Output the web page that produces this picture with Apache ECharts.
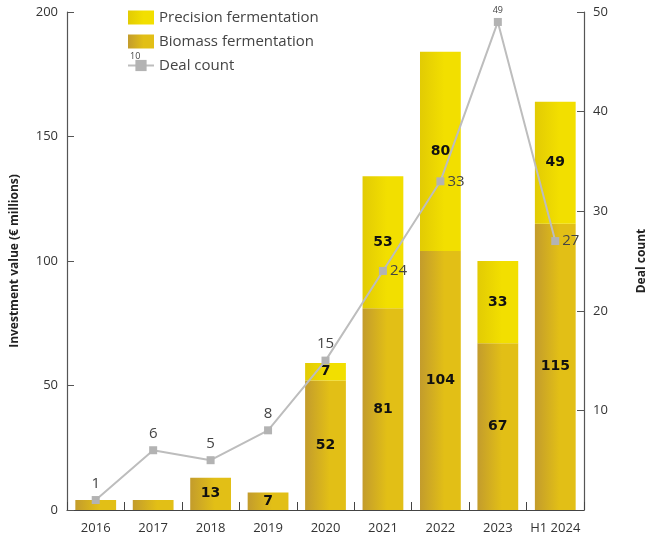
<!DOCTYPE html>
<html><head><meta charset="utf-8">
<script src="https://cdn.jsdelivr.net/npm/echarts@6/dist/echarts.min.js"></script>
<style>html,body{margin:0;padding:0;background:#fff}#c{width:645px;height:538px}</style>
</head><body><div id="c"></div>
<script>
const categories = ['2016','2017','2018','2019','2020','2021','2022','2023','H1 2024'];
const biomass = [4, 4, 13, 7, 52, 81, 104, 67, 115];
const precision = [0, 0, 0, 0, 7, 53, 80, 33, 49];
const dealCount = [1, 6, 5, 8, 15, 24, 33, 49, 27];
const leftTicks = [0, 50, 100, 150, 200];
const rightTicks = [10, 20, 30, 40, 50];
const hideBarLabel = ['2016','2017'];
const sideLabelCats = ['2021','2022','H1 2024'];

const font = 'Open Sans';
const grad = (a, b) => new echarts.graphic.LinearGradient(0, 0, 1, 0, [{offset:0,color:a},{offset:0.6,color:b},{offset:1,color:b}]);
const barLabel = {show:true, position:'inside', fontFamily:'DejaVu Sans', fontWeight:'bold', fontSize:14, color:'#111'};

const chart = echarts.init(document.getElementById('c'));
chart.setOption({
  animation:false,
  textStyle:{fontFamily:font},
  grid:{left:67, right:61, top:12, bottom:28, containLabel:false, outerBoundsMode:'none'},
  legend:{
    orient:'vertical', left:122, top:5, itemGap:9, itemWidth:26, itemHeight:14,
    textStyle:{fontSize:15, color:'#444', fontFamily:font},
    data:[
      {name:'Precision fermentation', icon:'rect'},
      {name:'Biomass fermentation', icon:'rect'},
      {name:'Deal count'}
    ]
  },
  graphic:[{type:'text', left:130, top:52, style:{text:'10', fontSize:9, fill:'#444', fontFamily:font}}],
  xAxis:{
    type:'category', data:categories,
    axisLine:{lineStyle:{color:'#444', width:1.2}},
    axisTick:{show:true, inside:true, length:8, lineStyle:{color:'#444'}},
    axisLabel:{fontSize:13, color:'#333', margin:12, interval:0, fontFamily:font}
  },
  yAxis:[
    {type:'value', min:0, max:200, interval:50,
     name:'Investment value (€ millions)', nameLocation:'middle', nameGap:46, nameRotate:90,
     nameTextStyle:{fontSize:12, fontWeight:'bold', color:'#222', fontFamily:font},
     axisLine:{show:true, lineStyle:{color:'#555', width:1.2}},
     axisTick:{show:true, inside:true, length:7, lineStyle:{color:'#555'}},
     axisLabel:{fontSize:13, color:'#333', margin:9, fontFamily:font},
     splitLine:{show:false}},
    {type:'value', min:0, max:50, interval:10, position:'right',
     name:'Deal count', nameLocation:'middle', nameGap:52, nameRotate:90,
     nameTextStyle:{fontSize:12, fontWeight:'bold', color:'#222', fontFamily:font},
     axisLine:{show:true, lineStyle:{color:'#555', width:1.2}},
     axisTick:{show:true, inside:true, length:7, lineStyle:{color:'#555'}},
     axisLabel:{fontSize:13, color:'#333', margin:9, showMinLabel:false, fontFamily:font},
     splitLine:{show:false}}
  ],
  series:[
    {name:'Biomass fermentation', type:'bar', stack:'inv', barWidth:'71%',
     itemStyle:{color:grad('#c39c2c','#e2bf16')},
     label:barLabel,
     data:biomass.map((v,i)=>({value:v, label:{show: !hideBarLabel.includes(categories[i])}}))},
    {name:'Precision fermentation', type:'bar', stack:'inv',
     itemStyle:{color:grad('#e2cb04','#f2df00')},
     label:barLabel,
     data:precision.map((v,i)=>({value:v, label:{show: v>0}}))},
    {name:'Deal count', type:'line', yAxisIndex:1, z:5,
     symbol:'rect', symbolSize:8,
     lineStyle:{color:'#bdbdbd', width:2},
     itemStyle:{color:'#b3b3b3'},
     label:{show:true, position:'top', fontSize:15, color:'#444', distance:5, fontFamily:font},
     data:dealCount.map((v,i)=>{
       const c = categories[i];
       if (sideLabelCats.includes(c)) return {value:v, label:{position:'right', distance:3}};
       if (v===49) return {value:v, label:{fontSize:9, distance:3}};
       return {value:v};
     })}
  ]
});
</script></body></html>
